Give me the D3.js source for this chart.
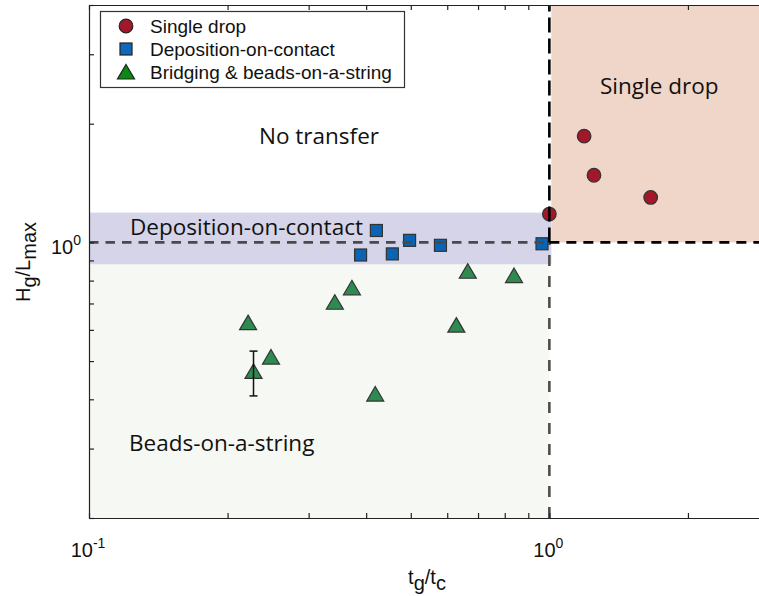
<!DOCTYPE html>
<html>
<head>
<meta charset="utf-8">
<script src="https://cdn.jsdelivr.net/npm/d3@7"></script>
<style>
  body { margin: 0; background: #fff; }
  svg { display: block; }
</style>
</head>
<body>
<svg id="chart" width="759" height="596"></svg>
<script>
// data (t_g/t_c vs H_g/L_max)
const dropX = [1.19, 1.25, 1.66, 1.0];
const dropY = [1.86, 1.48, 1.30, 1.18];
const depX = [0.421, 0.389, 0.456, 0.497, 0.580, 0.964];
const depY = [1.072, 0.929, 0.935, 1.012, 0.983, 0.992];
const beadX = [0.665, 0.838, 0.3725, 0.342, 0.2216, 0.628, 0.2485, 0.2277, 0.4186];
const beadY = [0.845, 0.824, 0.767, 0.705, 0.626, 0.617, 0.512, 0.471, 0.4125];
const errX = [0.2277];
const errLo = [0.408];
const errHi = [0.530];
const bandLo = 0.88, bandHi = 1.19;
const xTicks = [0.1, 0.2, 0.3, 0.4, 0.5, 0.6, 0.7, 0.8, 0.9, 1, 2, 3];
const yTicks = [0.2, 0.3, 0.4, 0.5, 0.6, 0.7, 0.8, 0.9, 1, 2, 3, 4];
const xTickLabels = [['10', '-1', 0.1], ['10', '0', 1]];
const yTickLabels = [['10', '0', 1]];
const legendNames = ['Single drop', 'Deposition-on-contact', 'Bridging & beads-on-a-string'];

const svg = d3.select('#chart');
const x = d3.scaleLog().domain([0.1, 3]).range([89, 769]);
const y = d3.scaleLog().domain([0.2, 4]).range([518, 5]);

const tri = 'M0,-7.5L8.5,7L-8.5,7Z';

// shaded regions
svg.append('rect')
  .attr('x', x(0.1)).attr('y', y(bandLo))
  .attr('width', x(1) - x(0.1)).attr('height', y(0.2) - y(bandLo))
  .attr('fill', '#f6f8f3');
svg.append('rect')
  .attr('x', x(0.1)).attr('y', y(bandHi))
  .attr('width', x(1) - x(0.1) + 2).attr('height', y(bandLo) - y(bandHi))
  .attr('fill', '#d5d4e8');
svg.append('rect')
  .attr('x', x(1) + 2).attr('y', y(4))
  .attr('width', x(3) - x(1)).attr('height', y(1) - y(4))
  .attr('fill', '#efd6c9');

// region labels
const regionFont = '"Open Sans", Lato, sans-serif';
[['No transfer', 259, 144], ['Single drop', 600, 94],
 ['Deposition-on-contact', 130, 235], ['Beads-on-a-string', 129, 451]]
  .forEach(([t, px, py]) => {
    svg.append('text').attr('x', px).attr('y', py)
      .attr('font-family', regionFont).attr('font-size', 22.5)
      .attr('fill', '#111').text(t);
  });

// markers
svg.selectAll('.bead').data(beadX).join('path')
  .attr('transform', (d, i) => `translate(${x(d)},${y(beadY[i])})`)
  .attr('d', tri).attr('fill', '#2e8a50').attr('stroke', '#333').attr('stroke-width', 1.2);

svg.selectAll('.dep').data(depX).join('rect')
  .attr('x', d => x(d) - 6).attr('y', (d, i) => y(depY[i]) - 6)
  .attr('width', 12).attr('height', 12)
  .attr('fill', '#0b63b4').attr('stroke', '#333').attr('stroke-width', 1.2);

svg.selectAll('.drop').data(dropX).join('circle')
  .attr('cx', d => x(d)).attr('cy', (d, i) => y(dropY[i])).attr('r', 6.8)
  .attr('fill', '#a3172b').attr('stroke', '#333').attr('stroke-width', 1.2);

// boundary dashed lines
function dashed(x1, x2, y1, y2, color, dash) {
  svg.append('line')
    .attr('x1', x(x1)).attr('x2', x(x2)).attr('y1', y(y1)).attr('y2', y(y2))
    .attr('stroke', color).attr('stroke-width', 2.6).attr('stroke-dasharray', dash);
}
dashed(0.1, 1, 1, 1, '#4a4a4a', '9.5,7');
dashed(1, 1, 0.2, 1, '#4d4d4d', '11,10');
dashed(1, 1, 1, 4, '#000', '15,6');
dashed(1, 3, 1, 1, '#000', '10,7');

// error bar
errX.forEach((d, i) => {
  const g = svg.append('g').attr('stroke', '#111').attr('stroke-width', 1.5);
  g.append('line').attr('x1', x(d)).attr('x2', x(d)).attr('y1', y(errLo[i])).attr('y2', y(errHi[i]));
  g.append('line').attr('x1', x(d) - 4).attr('x2', x(d) + 4).attr('y1', y(errLo[i])).attr('y2', y(errLo[i]));
  g.append('line').attr('x1', x(d) - 4).attr('x2', x(d) + 4).attr('y1', y(errHi[i])).attr('y2', y(errHi[i]));
});

// axes, MATLAB style (ticks inside, mirrored)
const axisColor = '#222';
function styleAxis(g) {
  g.select('.domain').attr('stroke', axisColor).attr('stroke-width', 1.2);
  g.selectAll('.tick line').attr('stroke', axisColor).attr('stroke-width', 1.2);
  g.selectAll('.tick text').remove();
}
svg.append('g').attr('transform', `translate(0,${y(0.2)})`)
  .call(d3.axisBottom(x).tickValues(xTicks).tickSizeInner(-5).tickSizeOuter(0))
  .call(styleAxis);
svg.append('g').attr('transform', `translate(0,${y(4)})`)
  .call(d3.axisTop(x).tickValues(xTicks).tickSizeInner(-5).tickSizeOuter(0))
  .call(styleAxis);
svg.append('g').attr('transform', `translate(${x(0.1)},0)`)
  .call(d3.axisLeft(y).tickValues(yTicks).tickSizeInner(-5).tickSizeOuter(0))
  .call(styleAxis);
svg.append('g').attr('transform', `translate(${x(3)},0)`)
  .call(d3.axisRight(y).tickValues(yTicks).tickSizeInner(-5).tickSizeOuter(0))
  .call(styleAxis);

// tick labels with superscripts
const axisFont = '"Liberation Sans", Arial, Helvetica, sans-serif';
xTickLabels.forEach(([base, sup, v]) => {
  const t = svg.append('text').attr('x', x(v) - 1).attr('y', 557)
    .attr('text-anchor', 'middle').attr('font-family', axisFont)
    .attr('font-size', 20).attr('fill', '#111');
  t.append('tspan').text(base);
  t.append('tspan').attr('dy', -9).attr('font-size', 14).text(sup);
});
yTickLabels.forEach(([base, sup, v]) => {
  const t = svg.append('text').attr('x', 81).attr('y', y(v) + 12)
    .attr('text-anchor', 'end').attr('font-family', axisFont)
    .attr('font-size', 20).attr('fill', '#111');
  t.append('tspan').text(base);
  t.append('tspan').attr('dy', -9).attr('font-size', 14).text(sup);
});

// axis titles
const xl = svg.append('text').attr('x', 427).attr('y', 584)
  .attr('text-anchor', 'middle').attr('font-family', axisFont)
  .attr('font-size', 20).attr('fill', '#111');
xl.append('tspan').text('t');
xl.append('tspan').attr('dy', 6).text('g');
xl.append('tspan').attr('dy', -6).text('/t');
xl.append('tspan').attr('dy', 6).text('c');

const yl = svg.append('text')
  .attr('transform', 'translate(30,262) rotate(-90)')
  .attr('text-anchor', 'middle').attr('font-family', axisFont)
  .attr('font-size', 20).attr('fill', '#111');
yl.append('tspan').text('H');
yl.append('tspan').attr('dy', 6).text('g');
yl.append('tspan').attr('dy', -6).text('/L');
yl.append('tspan').attr('dy', 6).text('max');

// legend
const lg = svg.append('g');
lg.append('rect').attr('x', 100.5).attr('y', 11.5).attr('width', 304).attr('height', 76)
  .attr('fill', '#fff').attr('stroke', '#333').attr('stroke-width', 1.2);
const rowY = [26, 49, 72];
lg.append('circle').attr('cx', 126).attr('cy', rowY[0]).attr('r', 6.8)
  .attr('fill', '#a3172b').attr('stroke', '#222').attr('stroke-width', 1.2);
lg.append('rect').attr('x', 120).attr('y', rowY[1] - 6).attr('width', 12).attr('height', 12)
  .attr('fill', '#1069b8').attr('stroke', '#222').attr('stroke-width', 1.2);
lg.append('path').attr('transform', `translate(126,${rowY[2]})`).attr('d', tri)
  .attr('fill', '#0a8a12').attr('stroke', '#222').attr('stroke-width', 1.2);
legendNames.forEach((n, i) => {
  lg.append('text').attr('x', 150).attr('y', rowY[i] + 7)
    .attr('font-family', axisFont).attr('font-size', 19).attr('fill', '#111').text(n);
});
</script>
</body>
</html>
